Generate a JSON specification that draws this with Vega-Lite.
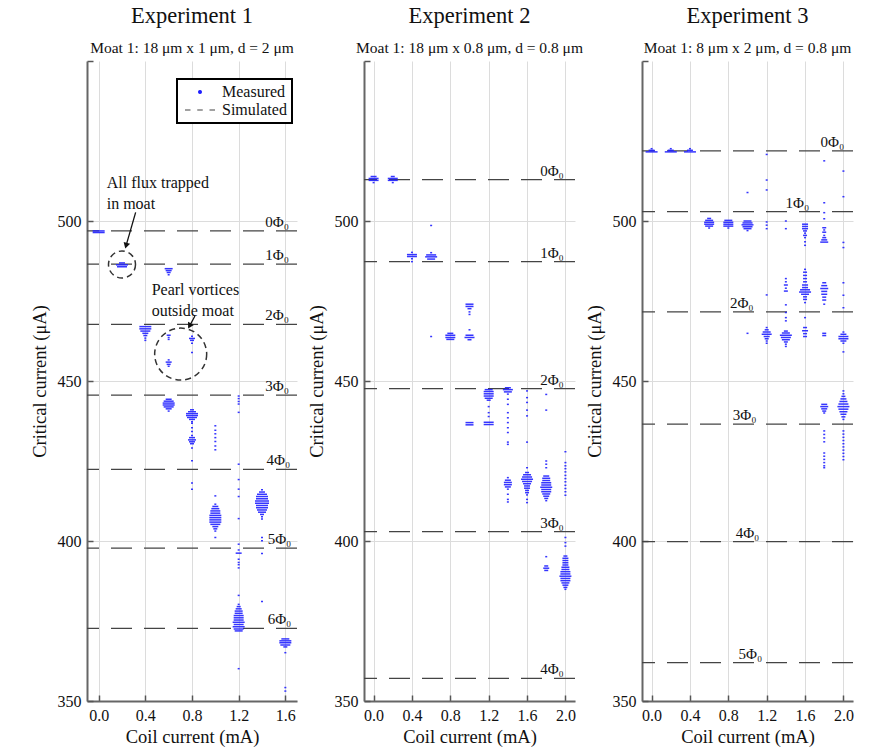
{
"$schema":"https://vega.github.io/schema/vega-lite/v6.json",
"background":"white",
"padding":{"left":30,"top":5,"right":5,"bottom":5},
"spacing":67,
"bounds":"flush",
"config":{
 "view":{"stroke":null},
 "font":"Liberation Serif",
 "axis":{"labelFont":"Liberation Serif","labelFontSize":16,"labelColor":"#111","titleFont":"Liberation Serif","titleFontSize":18.5,"titleFontWeight":"normal","titleColor":"#111","domainColor":"#666","domainWidth":2,"tickColor":"#555","tickWidth":1.5,"tickSize":-6,"gridColor":"#dcdcdc","gridWidth":1,"labelPadding":12},
 "axisY":{"titlePadding":8},
 "axisX":{"titlePadding":4},
 "title":{"font":"Liberation Serif","fontSize":22.5,"fontWeight":"normal","color":"#111","subtitleFont":"Liberation Serif","subtitleFontSize":15.5,"subtitleColor":"#111","subtitlePadding":13,"offset":4}
},
"datasets":{
 "e1":[
 {"c":0,"v":496.9,"n":6},{"c":0,"v":496.4,"n":6},
 {"c":0.2,"v":486.9,"n":3},{"c":0.2,"v":486.3,"n":6},{"c":0.2,"v":485.7,"n":5},
 {"c":0.4,"v":467.0,"n":6},{"c":0.4,"v":466.3,"n":6},{"c":0.4,"v":465.6,"n":5},{"c":0.4,"v":464.9,"n":3},{"c":0.4,"v":464.2,"n":2},{"c":0.4,"v":463.4,"n":1},{"c":0.4,"v":462.7,"n":1},
 {"c":0.6,"v":485.1,"n":4},{"c":0.6,"v":484.5,"n":3},{"c":0.6,"v":483.9,"n":2},{"c":0.6,"v":483.2,"n":1},{"c":0.6,"v":464.3,"n":2},{"c":0.6,"v":463.6,"n":1},{"c":0.6,"v":463.0,"n":1},{"c":0.6,"v":456.6,"n":1},{"c":0.6,"v":455.9,"n":3},{"c":0.6,"v":455.2,"n":2},{"c":0.6,"v":454.6,"n":1},{"c":0.6,"v":444.3,"n":3},{"c":0.6,"v":443.7,"n":5},{"c":0.6,"v":443.1,"n":6},{"c":0.6,"v":442.5,"n":6},{"c":0.6,"v":441.9,"n":5},{"c":0.6,"v":441.3,"n":3},{"c":0.6,"v":440.6,"n":1},
 {"c":0.8,"v":464.0,"n":1},{"c":0.8,"v":463.3,"n":3},{"c":0.8,"v":462.7,"n":2},{"c":0.8,"v":461.8,"n":1},{"c":0.8,"v":458.9,"n":1},{"c":0.8,"v":441.0,"n":2},{"c":0.8,"v":440.4,"n":4},{"c":0.8,"v":439.8,"n":6},{"c":0.8,"v":439.2,"n":6},{"c":0.8,"v":438.6,"n":5},{"c":0.8,"v":438.0,"n":3},{"c":0.8,"v":437.3,"n":1},{"c":0.8,"v":436.8,"n":1},{"c":0.8,"v":435.4,"n":1},{"c":0.8,"v":434.2,"n":1},{"c":0.8,"v":433.0,"n":1},{"c":0.8,"v":432.3,"n":3},{"c":0.8,"v":431.6,"n":4},{"c":0.8,"v":431.0,"n":3},{"c":0.8,"v":430.4,"n":2},{"c":0.8,"v":429.1,"n":1},{"c":0.8,"v":425.1,"n":1},{"c":0.8,"v":418.1,"n":1},{"c":0.8,"v":416.2,"n":1},
 {"c":1.0,"v":436.0,"n":1},{"c":1.0,"v":434.6,"n":1},{"c":1.0,"v":433.5,"n":1},{"c":1.0,"v":432.3,"n":1},{"c":1.0,"v":431.1,"n":1},{"c":1.0,"v":429.7,"n":1},{"c":1.0,"v":428.5,"n":1},{"c":1.0,"v":414.1,"n":1},{"c":1.0,"v":411.5,"n":1},{"c":1.0,"v":410.8,"n":3},{"c":1.0,"v":410.1,"n":4},{"c":1.0,"v":409.4,"n":5},{"c":1.0,"v":408.7,"n":5},{"c":1.0,"v":408.0,"n":6},{"c":1.0,"v":407.3,"n":6},{"c":1.0,"v":406.6,"n":6},{"c":1.0,"v":405.9,"n":6},{"c":1.0,"v":405.2,"n":5},{"c":1.0,"v":404.5,"n":3},{"c":1.0,"v":403.8,"n":2},{"c":1.0,"v":403.1,"n":1},{"c":1.0,"v":401.1,"n":1},
 {"c":1.2,"v":445.3,"n":1},{"c":1.2,"v":444.5,"n":1},{"c":1.2,"v":443.6,"n":1},{"c":1.2,"v":442.8,"n":1},{"c":1.2,"v":440.2,"n":1},{"c":1.2,"v":424.0,"n":1},{"c":1.2,"v":419.2,"n":1},{"c":1.2,"v":416.2,"n":1},{"c":1.2,"v":413.9,"n":1},{"c":1.2,"v":407.0,"n":1},{"c":1.2,"v":399.0,"n":1},{"c":1.2,"v":397.2,"n":1},{"c":1.2,"v":396.2,"n":3},{"c":1.2,"v":394.3,"n":1},{"c":1.2,"v":393.3,"n":1},{"c":1.2,"v":392.6,"n":1},{"c":1.2,"v":391.6,"n":1},{"c":1.2,"v":383.0,"n":1},{"c":1.2,"v":380.2,"n":1},{"c":1.2,"v":379.5,"n":2},{"c":1.2,"v":378.8,"n":3},{"c":1.2,"v":378.1,"n":4},{"c":1.2,"v":377.4,"n":4},{"c":1.2,"v":376.7,"n":5},{"c":1.2,"v":376.0,"n":5},{"c":1.2,"v":375.3,"n":5},{"c":1.2,"v":374.6,"n":6},{"c":1.2,"v":373.9,"n":5},{"c":1.2,"v":373.2,"n":6},{"c":1.2,"v":372.5,"n":5},{"c":1.2,"v":371.9,"n":4},{"c":1.2,"v":360.1,"n":1},
 {"c":1.4,"v":416.0,"n":1},{"c":1.4,"v":415.3,"n":3},{"c":1.4,"v":414.6,"n":5},{"c":1.4,"v":413.9,"n":6},{"c":1.4,"v":413.2,"n":6},{"c":1.4,"v":412.5,"n":7},{"c":1.4,"v":411.8,"n":7},{"c":1.4,"v":411.1,"n":6},{"c":1.4,"v":410.4,"n":6},{"c":1.4,"v":409.7,"n":5},{"c":1.4,"v":409.0,"n":4},{"c":1.4,"v":408.3,"n":2},{"c":1.4,"v":407.6,"n":1},{"c":1.4,"v":406.9,"n":1},{"c":1.4,"v":401.1,"n":1},{"c":1.4,"v":400.1,"n":1},{"c":1.4,"v":396.1,"n":1},{"c":1.4,"v":381.1,"n":1},
 {"c":1.6,"v":369.4,"n":4},{"c":1.6,"v":368.8,"n":6},{"c":1.6,"v":368.2,"n":6},{"c":1.6,"v":367.5,"n":5},{"c":1.6,"v":366.9,"n":2},{"c":1.6,"v":365.1,"n":1},{"c":1.6,"v":354.2,"n":1},{"c":1.6,"v":353.1,"n":1}
 ],
 "e2":[
 {"c":0,"v":513.9,"n":3},{"c":0,"v":513.3,"n":5},{"c":0,"v":512.7,"n":5},{"c":0,"v":512.0,"n":1},
 {"c":0.2,"v":513.9,"n":2},{"c":0.2,"v":513.3,"n":5},{"c":0.2,"v":512.7,"n":5},{"c":0.2,"v":512.0,"n":1},
 {"c":0.4,"v":490.2,"n":1},{"c":0.4,"v":489.5,"n":5},{"c":0.4,"v":488.9,"n":5},{"c":0.4,"v":488.2,"n":1},{"c":0.4,"v":487.3,"n":1},
 {"c":0.6,"v":498.6,"n":1},{"c":0.6,"v":490.1,"n":1},{"c":0.6,"v":489.4,"n":5},{"c":0.6,"v":488.8,"n":6},{"c":0.6,"v":488.1,"n":4},{"c":0.6,"v":463.9,"n":1},
 {"c":0.8,"v":464.9,"n":3},{"c":0.8,"v":464.3,"n":5},{"c":0.8,"v":463.6,"n":5},{"c":0.8,"v":463.0,"n":4},
 {"c":1.0,"v":474.0,"n":4},{"c":1.0,"v":473.3,"n":4},{"c":1.0,"v":472.6,"n":2},{"c":1.0,"v":471.6,"n":1},{"c":1.0,"v":470.8,"n":1},{"c":1.0,"v":466.0,"n":1},{"c":1.0,"v":464.3,"n":4},{"c":1.0,"v":463.6,"n":5},{"c":1.0,"v":462.9,"n":2},{"c":1.0,"v":437.0,"n":4},{"c":1.0,"v":436.3,"n":4},
 {"c":1.2,"v":447.3,"n":4},{"c":1.2,"v":446.7,"n":5},{"c":1.2,"v":446.0,"n":5},{"c":1.2,"v":445.3,"n":5},{"c":1.2,"v":444.6,"n":4},{"c":1.2,"v":444.0,"n":2},{"c":1.2,"v":442.0,"n":1},{"c":1.2,"v":440.1,"n":1},{"c":1.2,"v":438.9,"n":1},{"c":1.2,"v":437.1,"n":5},{"c":1.2,"v":436.4,"n":5},
 {"c":1.4,"v":447.9,"n":3},{"c":1.4,"v":447.3,"n":5},{"c":1.4,"v":446.6,"n":4},{"c":1.4,"v":445.9,"n":1},{"c":1.4,"v":444.3,"n":1},{"c":1.4,"v":442.7,"n":1},{"c":1.4,"v":440.1,"n":1},{"c":1.4,"v":438.5,"n":1},{"c":1.4,"v":437.0,"n":1},{"c":1.4,"v":435.4,"n":1},{"c":1.4,"v":433.9,"n":1},{"c":1.4,"v":430.9,"n":1},{"c":1.4,"v":430.2,"n":1},{"c":1.4,"v":419.8,"n":1},{"c":1.4,"v":419.0,"n":3},{"c":1.4,"v":418.3,"n":4},{"c":1.4,"v":417.6,"n":4},{"c":1.4,"v":416.9,"n":3},{"c":1.4,"v":416.2,"n":1},{"c":1.4,"v":414.6,"n":1},{"c":1.4,"v":413.0,"n":1},{"c":1.4,"v":412.2,"n":1},
 {"c":1.6,"v":446.9,"n":1},{"c":1.6,"v":444.8,"n":1},{"c":1.6,"v":443.3,"n":1},{"c":1.6,"v":440.9,"n":1},{"c":1.6,"v":439.1,"n":1},{"c":1.6,"v":430.9,"n":1},{"c":1.6,"v":422.9,"n":1},{"c":1.6,"v":421.4,"n":2},{"c":1.6,"v":420.7,"n":4},{"c":1.6,"v":420.0,"n":5},{"c":1.6,"v":419.3,"n":6},{"c":1.6,"v":418.6,"n":5},{"c":1.6,"v":417.9,"n":4},{"c":1.6,"v":417.2,"n":3},{"c":1.6,"v":416.5,"n":3},{"c":1.6,"v":415.8,"n":2},{"c":1.6,"v":415.1,"n":2},{"c":1.6,"v":414.4,"n":1},{"c":1.6,"v":413.0,"n":1},{"c":1.6,"v":412.0,"n":1},
 {"c":1.8,"v":445.8,"n":1},{"c":1.8,"v":440.9,"n":1},{"c":1.8,"v":425.0,"n":1},{"c":1.8,"v":424.0,"n":1},{"c":1.8,"v":422.9,"n":1},{"c":1.8,"v":420.3,"n":3},{"c":1.8,"v":419.6,"n":4},{"c":1.8,"v":418.9,"n":4},{"c":1.8,"v":418.2,"n":5},{"c":1.8,"v":417.5,"n":5},{"c":1.8,"v":416.8,"n":6},{"c":1.8,"v":416.1,"n":5},{"c":1.8,"v":415.4,"n":5},{"c":1.8,"v":414.7,"n":4},{"c":1.8,"v":414.0,"n":3},{"c":1.8,"v":413.3,"n":2},{"c":1.8,"v":412.6,"n":1},{"c":1.8,"v":395.1,"n":1},{"c":1.8,"v":392.2,"n":2},{"c":1.8,"v":391.5,"n":3},{"c":1.8,"v":390.8,"n":2},
 {"c":2.0,"v":427.9,"n":1},{"c":2.0,"v":424.5,"n":1},{"c":2.0,"v":423.5,"n":1},{"c":2.0,"v":422.6,"n":1},{"c":2.0,"v":421.6,"n":1},{"c":2.0,"v":420.5,"n":1},{"c":2.0,"v":419.5,"n":1},{"c":2.0,"v":418.5,"n":1},{"c":2.0,"v":417.4,"n":1},{"c":2.0,"v":416.4,"n":1},{"c":2.0,"v":415.4,"n":1},{"c":2.0,"v":414.3,"n":1},{"c":2.0,"v":401.1,"n":1},{"c":2.0,"v":399.5,"n":1},{"c":2.0,"v":398.4,"n":1},{"c":2.0,"v":395.3,"n":2},{"c":2.0,"v":394.6,"n":3},{"c":2.0,"v":393.9,"n":3},{"c":2.0,"v":393.2,"n":3},{"c":2.0,"v":392.5,"n":3},{"c":2.0,"v":391.8,"n":4},{"c":2.0,"v":391.1,"n":4},{"c":2.0,"v":390.4,"n":5},{"c":2.0,"v":389.7,"n":5},{"c":2.0,"v":389.0,"n":6},{"c":2.0,"v":388.3,"n":5},{"c":2.0,"v":387.6,"n":5},{"c":2.0,"v":386.9,"n":4},{"c":2.0,"v":386.2,"n":3},{"c":2.0,"v":385.5,"n":2},{"c":2.0,"v":384.9,"n":1}
 ],
 "e3":[
 {"c":0,"v":522.6,"n":1},{"c":0,"v":522.1,"n":3},{"c":0,"v":521.6,"n":6},
 {"c":0.2,"v":522.6,"n":1},{"c":0.2,"v":522.1,"n":3},{"c":0.2,"v":521.6,"n":6},
 {"c":0.4,"v":522.6,"n":1},{"c":0.4,"v":522.1,"n":3},{"c":0.4,"v":521.6,"n":6},
 {"c":0.6,"v":500.8,"n":2},{"c":0.6,"v":500.2,"n":4},{"c":0.6,"v":499.6,"n":5},{"c":0.6,"v":499.0,"n":5},{"c":0.6,"v":498.4,"n":4},{"c":0.6,"v":497.8,"n":1},
 {"c":0.8,"v":500.2,"n":4},{"c":0.8,"v":499.6,"n":5},{"c":0.8,"v":499.0,"n":5},{"c":0.8,"v":498.4,"n":5},{"c":0.8,"v":497.8,"n":1},
 {"c":1.0,"v":508.9,"n":1},{"c":1.0,"v":500.0,"n":4},{"c":1.0,"v":499.4,"n":5},{"c":1.0,"v":498.8,"n":6},{"c":1.0,"v":498.2,"n":5},{"c":1.0,"v":497.6,"n":4},{"c":1.0,"v":497.0,"n":1},{"c":1.0,"v":464.9,"n":1},
 {"c":1.2,"v":520.8,"n":1},{"c":1.2,"v":512.8,"n":1},{"c":1.2,"v":509.7,"n":1},{"c":1.2,"v":499.7,"n":1},{"c":1.2,"v":498.7,"n":1},{"c":1.2,"v":497.6,"n":1},{"c":1.2,"v":476.9,"n":1},{"c":1.2,"v":466.7,"n":1},{"c":1.2,"v":466.0,"n":2},{"c":1.2,"v":465.3,"n":4},{"c":1.2,"v":464.6,"n":5},{"c":1.2,"v":463.9,"n":3},{"c":1.2,"v":463.2,"n":2},{"c":1.2,"v":462.5,"n":1},{"c":1.2,"v":461.8,"n":1},
 {"c":1.4,"v":500.0,"n":1},{"c":1.4,"v":497.6,"n":1},{"c":1.4,"v":482.0,"n":1},{"c":1.4,"v":481.0,"n":1},{"c":1.4,"v":480.0,"n":2},{"c":1.4,"v":479.0,"n":1},{"c":1.4,"v":478.1,"n":2},{"c":1.4,"v":473.8,"n":1},{"c":1.4,"v":471.4,"n":1},{"c":1.4,"v":469.8,"n":1},{"c":1.4,"v":468.8,"n":1},{"c":1.4,"v":465.6,"n":2},{"c":1.4,"v":465.0,"n":4},{"c":1.4,"v":464.3,"n":6},{"c":1.4,"v":463.6,"n":5},{"c":1.4,"v":462.9,"n":4},{"c":1.4,"v":462.2,"n":2},{"c":1.4,"v":461.5,"n":1},{"c":1.4,"v":460.8,"n":1},
 {"c":1.6,"v":499.0,"n":3},{"c":1.6,"v":498.3,"n":3},{"c":1.6,"v":497.6,"n":3},{"c":1.6,"v":496.9,"n":2},{"c":1.6,"v":496.2,"n":1},{"c":1.6,"v":495.5,"n":2},{"c":1.6,"v":494.8,"n":1},{"c":1.6,"v":493.5,"n":1},{"c":1.6,"v":492.4,"n":1},{"c":1.6,"v":484.9,"n":1},{"c":1.6,"v":484.0,"n":2},{"c":1.6,"v":483.0,"n":2},{"c":1.6,"v":482.0,"n":2},{"c":1.6,"v":481.0,"n":2},{"c":1.6,"v":480.0,"n":3},{"c":1.6,"v":479.2,"n":3},{"c":1.6,"v":478.5,"n":5},{"c":1.6,"v":477.8,"n":6},{"c":1.6,"v":477.1,"n":4},{"c":1.6,"v":476.3,"n":2},{"c":1.6,"v":475.5,"n":2},{"c":1.6,"v":474.5,"n":1},{"c":1.6,"v":469.8,"n":1},{"c":1.6,"v":466.7,"n":2},{"c":1.6,"v":465.7,"n":3},{"c":1.6,"v":464.8,"n":2},{"c":1.6,"v":463.9,"n":2},
 {"c":1.8,"v":518.8,"n":1},{"c":1.8,"v":505.7,"n":1},{"c":1.8,"v":502.6,"n":1},{"c":1.8,"v":500.7,"n":1},{"c":1.8,"v":497.9,"n":2},{"c":1.8,"v":497.2,"n":1},{"c":1.8,"v":496.5,"n":2},{"c":1.8,"v":495.5,"n":1},{"c":1.8,"v":494.8,"n":2},{"c":1.8,"v":494.1,"n":3},{"c":1.8,"v":493.4,"n":4},{"c":1.8,"v":480.7,"n":2},{"c":1.8,"v":479.8,"n":3},{"c":1.8,"v":478.9,"n":4},{"c":1.8,"v":478.0,"n":3},{"c":1.8,"v":477.1,"n":3},{"c":1.8,"v":476.2,"n":2},{"c":1.8,"v":475.3,"n":2},{"c":1.8,"v":474.0,"n":1},{"c":1.8,"v":464.9,"n":2},{"c":1.8,"v":464.2,"n":2},{"c":1.8,"v":442.7,"n":3},{"c":1.8,"v":442.0,"n":4},{"c":1.8,"v":441.3,"n":3},{"c":1.8,"v":440.6,"n":2},{"c":1.8,"v":440.0,"n":1},{"c":1.8,"v":434.4,"n":1},{"c":1.8,"v":433.3,"n":1},{"c":1.8,"v":432.2,"n":1},{"c":1.8,"v":431.0,"n":1},{"c":1.8,"v":427.5,"n":1},{"c":1.8,"v":426.5,"n":1},{"c":1.8,"v":425.5,"n":1},{"c":1.8,"v":424.5,"n":1},{"c":1.8,"v":423.5,"n":1},{"c":1.8,"v":422.9,"n":1},
 {"c":2.0,"v":515.6,"n":1},{"c":2.0,"v":507.6,"n":1},{"c":2.0,"v":493.3,"n":1},{"c":2.0,"v":491.7,"n":1},{"c":2.0,"v":480.7,"n":1},{"c":2.0,"v":476.8,"n":1},{"c":2.0,"v":472.9,"n":1},{"c":2.0,"v":465.3,"n":1},{"c":2.0,"v":464.6,"n":3},{"c":2.0,"v":463.9,"n":5},{"c":2.0,"v":463.2,"n":5},{"c":2.0,"v":462.5,"n":3},{"c":2.0,"v":461.8,"n":1},{"c":2.0,"v":459.1,"n":1},{"c":2.0,"v":446.9,"n":1},{"c":2.0,"v":446.0,"n":1},{"c":2.0,"v":445.2,"n":2},{"c":2.0,"v":444.4,"n":3},{"c":2.0,"v":443.6,"n":4},{"c":2.0,"v":442.8,"n":5},{"c":2.0,"v":442.0,"n":6},{"c":2.0,"v":441.2,"n":5},{"c":2.0,"v":440.4,"n":4},{"c":2.0,"v":439.6,"n":3},{"c":2.0,"v":438.8,"n":2},{"c":2.0,"v":438.0,"n":1},{"c":2.0,"v":434.4,"n":1},{"c":2.0,"v":433.4,"n":1},{"c":2.0,"v":432.4,"n":1},{"c":2.0,"v":431.4,"n":1},{"c":2.0,"v":430.4,"n":1},{"c":2.0,"v":429.4,"n":1},{"c":2.0,"v":428.4,"n":1},{"c":2.0,"v":427.4,"n":1},{"c":2.0,"v":426.4,"n":1},{"c":2.0,"v":425.4,"n":1}
 ],
 "lv1":[
 {"v":496.9,"c":1.53,"kind":"Simulated","label":"0Φ₀"},{"v":486.5,"c":1.53,"kind":"Simulated","label":"1Φ₀"},{"v":467.7,"c":1.53,"kind":"Simulated","label":"2Φ₀"},{"v":445.6,"c":1.53,"kind":"Simulated","label":"3Φ₀"},{"v":422.4,"c":1.54,"kind":"Simulated","label":"4Φ₀"},{"v":397.8,"c":1.55,"kind":"Simulated","label":"5Φ₀"},{"v":372.7,"c":1.55,"kind":"Simulated","label":"6Φ₀"}
 ],
 "lv2":[
 {"v":512.9,"c":1.86,"label":"0Φ₀"},{"v":487.3,"c":1.86,"label":"1Φ₀"},{"v":447.6,"c":1.86,"label":"2Φ₀"},{"v":402.9,"c":1.86,"label":"3Φ₀"},{"v":357.1,"c":1.86,"label":"4Φ₀"}
 ],
 "lv3":[
 {"v":521.9,"c":1.885,"label":"0Φ₀"},{"v":502.9,"c":1.52,"label":"1Φ₀"},{"v":471.6,"c":0.94,"label":"2Φ₀"},{"v":436.5,"c":0.97,"label":"3Φ₀"},{"v":399.8,"c":1.0,"label":"4Φ₀"},{"v":362.0,"c":1.03,"label":"5Φ₀"}
 ]
},
"hconcat":[
 {
 "width":210,"height":640,
 "title":{"text":"Experiment 1","subtitle":"Moat 1: 18 μm x 1 μm, d = 2 μm"},
 "layer":[
  {"data":{"name":"lv1"},"mark":{"type":"rule","strokeDash":[21,12],"strokeWidth":1.3},
   "encoding":{"y":{"field":"v","type":"quantitative"},
    "color":{"field":"kind","type":"nominal","scale":{"domain":["Measured","Simulated"],"range":["#1f1fff","#444444"]},
     "legend":{"title":null,"orient":"none","legendX":90,"legendY":18,"labelFont":"Liberation Serif","labelFontSize":16,"labelColor":"#111","symbolSize":100,"labelOffset":14,"symbolOffset":10,"padding":5,"rowPadding":2,"strokeColor":"black","fillColor":"white",
      "encode":{"legend":{"update":{"strokeWidth":{"value":2}}},
       "symbols":{"update":{"shape":{"signal":"datum.value === 'Simulated' ? 'M-3,0H-1.9M-0.55,0H0.55M1.9,0H3' : 'circle'"},"size":{"signal":"datum.value === 'Simulated' ? 100 : 8"},"stroke":{"signal":"datum.value === 'Simulated' ? '#333' : 'transparent'"},"fill":{"signal":"datum.value === 'Simulated' ? 'transparent' : '#1f1fff'"},"strokeWidth":{"value":1.2},"opacity":{"value":1}}}}}}}},
  {"data":{"name":"e1"},"transform":[{"calculate":"'Measured'","as":"kind"}],"mark":{"type":"tick","orient":"horizontal","thickness":1.5,"opacity":0.9},
   "encoding":{
    "x":{"field":"c","type":"quantitative","scale":{"domain":[-0.1,1.7],"nice":false,"zero":false},"axis":{"title":"Coil current (mA)","values":[0,0.2,0.4,0.6,0.8,1.0,1.2,1.4,1.6],"labelExpr":"round(datum.value*10) % 4 == 0 ? format(datum.value, '.1f') : ''","grid":true}},
    "y":{"field":"v","type":"quantitative","scale":{"domain":[350,550],"nice":false,"zero":false},"axis":{"title":"Critical current (μA)","values":[350,400,450,500,550],"labelExpr":"datum.value == 550 ? '' : datum.label","grid":true,"gridColor":{"condition":{"test":"datum.value >= 550","value":"transparent"},"value":"#dcdcdc"}}},
    "size":{"field":"n","type":"quantitative","scale":{"type":"linear","domain":[0,6],"range":[0,12]},"legend":null},
    "color":{"field":"kind","type":"nominal"}}},
  {"data":{"name":"lv1"},"mark":{"type":"text","baseline":"alphabetic","dy":-4,"fontSize":15,"font":"Liberation Serif","color":"#111"},
   "encoding":{"x":{"field":"c","type":"quantitative"},"y":{"field":"v","type":"quantitative"},"text":{"field":"label"}}},
  {"data":{"values":[{"c":0.069,"v":514.3,"t":"All flux trapped\nin moat"},{"c":0.454,"v":480.8,"t":"Pearl vortices\noutside moat"}]},
   "mark":{"type":"text","align":"left","baseline":"top","lineBreak":"\n","lineHeight":21,"fontSize":16,"font":"Liberation Serif","color":"#111"},
   "encoding":{"x":{"field":"c","type":"quantitative"},"y":{"field":"v","type":"quantitative"},"text":{"field":"t"}}},
  {"data":{"values":[{"c":0.2,"v":486.4}]},"mark":{"type":"point","shape":"circle","filled":false,"stroke":"#333","strokeWidth":1.5,"strokeDash":[6,4],"size":729,"opacity":1},
   "encoding":{"x":{"field":"c","type":"quantitative"},"y":{"field":"v","type":"quantitative"}}},
  {"data":{"values":[{"c":0.703,"v":458.4}]},"mark":{"type":"point","shape":"circle","filled":false,"stroke":"#333","strokeWidth":1.5,"strokeDash":[6,4],"size":2704,"opacity":1},
   "encoding":{"x":{"field":"c","type":"quantitative"},"y":{"field":"v","type":"quantitative"}}},
  {"data":{"values":[{"c":0.317,"v":502.7,"c2":0.235,"v2":492.3},{"c":0.825,"v":470.3,"c2":0.779,"v2":467.2}]},"mark":{"type":"rule","color":"#111","strokeWidth":1.3},
   "encoding":{"x":{"field":"c","type":"quantitative"},"y":{"field":"v","type":"quantitative"},"x2":{"field":"c2"},"y2":{"field":"v2"}}},
  {"data":{"values":[{"c":0.235,"v":492.3}]},"mark":{"type":"point","shape":"triangle-up","filled":true,"color":"#111","size":45,"angle":196,"opacity":1},
   "encoding":{"x":{"field":"c","type":"quantitative"},"y":{"field":"v","type":"quantitative"}}},
  {"data":{"values":[{"c":0.779,"v":467.2}]},"mark":{"type":"point","shape":"triangle-up","filled":true,"color":"#111","size":45,"angle":209,"opacity":1},
   "encoding":{"x":{"field":"c","type":"quantitative"},"y":{"field":"v","type":"quantitative"}}}
 ]},
 {
 "width":211,"height":640,
 "title":{"text":"Experiment 2","subtitle":"Moat 1: 18 μm x 0.8 μm, d = 0.8 μm"},
 "layer":[
  {"data":{"name":"lv2"},"mark":{"type":"rule","strokeDash":[21,12],"strokeWidth":1.3,"color":"#444444"},
   "encoding":{"y":{"field":"v","type":"quantitative"}}},
  {"data":{"name":"e2"},"mark":{"type":"tick","orient":"horizontal","thickness":1.5,"opacity":0.9,"color":"#1f1fff"},
   "encoding":{
    "x":{"field":"c","type":"quantitative","scale":{"domain":[-0.1,2.1],"nice":false,"zero":false},"axis":{"title":"Coil current (mA)","values":[0,0.2,0.4,0.6,0.8,1.0,1.2,1.4,1.6,1.8,2.0],"labelExpr":"round(datum.value*10) % 4 == 0 ? format(datum.value, '.1f') : ''","grid":true}},
    "y":{"field":"v","type":"quantitative","scale":{"domain":[350,550],"nice":false,"zero":false},"axis":{"title":"Critical current (μA)","values":[350,400,450,500,550],"labelExpr":"datum.value == 550 ? '' : datum.label","grid":true,"gridColor":{"condition":{"test":"datum.value >= 550","value":"transparent"},"value":"#dcdcdc"}}},
    "size":{"field":"n","type":"quantitative","scale":{"type":"linear","domain":[0,6],"range":[0,12]},"legend":null}}},
  {"data":{"name":"lv2"},"mark":{"type":"text","baseline":"alphabetic","dy":-4,"fontSize":15,"font":"Liberation Serif","color":"#111"},
   "encoding":{"x":{"field":"c","type":"quantitative"},"y":{"field":"v","type":"quantitative"},"text":{"field":"label"}}}
 ]},
 {
 "width":211,"height":640,
 "title":{"text":"Experiment 3","subtitle":"Moat 1: 8 μm x 2 μm, d = 0.8 μm"},
 "layer":[
  {"data":{"name":"lv3"},"mark":{"type":"rule","strokeDash":[21,12],"strokeWidth":1.3,"color":"#444444"},
   "encoding":{"y":{"field":"v","type":"quantitative"}}},
  {"data":{"name":"e3"},"mark":{"type":"tick","orient":"horizontal","thickness":1.5,"opacity":0.9,"color":"#1f1fff"},
   "encoding":{
    "x":{"field":"c","type":"quantitative","scale":{"domain":[-0.1,2.1],"nice":false,"zero":false},"axis":{"title":"Coil current (mA)","values":[0,0.2,0.4,0.6,0.8,1.0,1.2,1.4,1.6,1.8,2.0],"labelExpr":"round(datum.value*10) % 4 == 0 ? format(datum.value, '.1f') : ''","grid":true}},
    "y":{"field":"v","type":"quantitative","scale":{"domain":[350,550],"nice":false,"zero":false},"axis":{"title":"Critical current (μA)","values":[350,400,450,500,550],"labelExpr":"datum.value == 550 ? '' : datum.label","grid":true,"gridColor":{"condition":{"test":"datum.value >= 550","value":"transparent"},"value":"#dcdcdc"}}},
    "size":{"field":"n","type":"quantitative","scale":{"type":"linear","domain":[0,6],"range":[0,12]},"legend":null}}},
  {"data":{"name":"lv3"},"mark":{"type":"text","baseline":"alphabetic","dy":-4,"fontSize":15,"font":"Liberation Serif","color":"#111"},
   "encoding":{"x":{"field":"c","type":"quantitative"},"y":{"field":"v","type":"quantitative"},"text":{"field":"label"}}}
 ]}
]
}
